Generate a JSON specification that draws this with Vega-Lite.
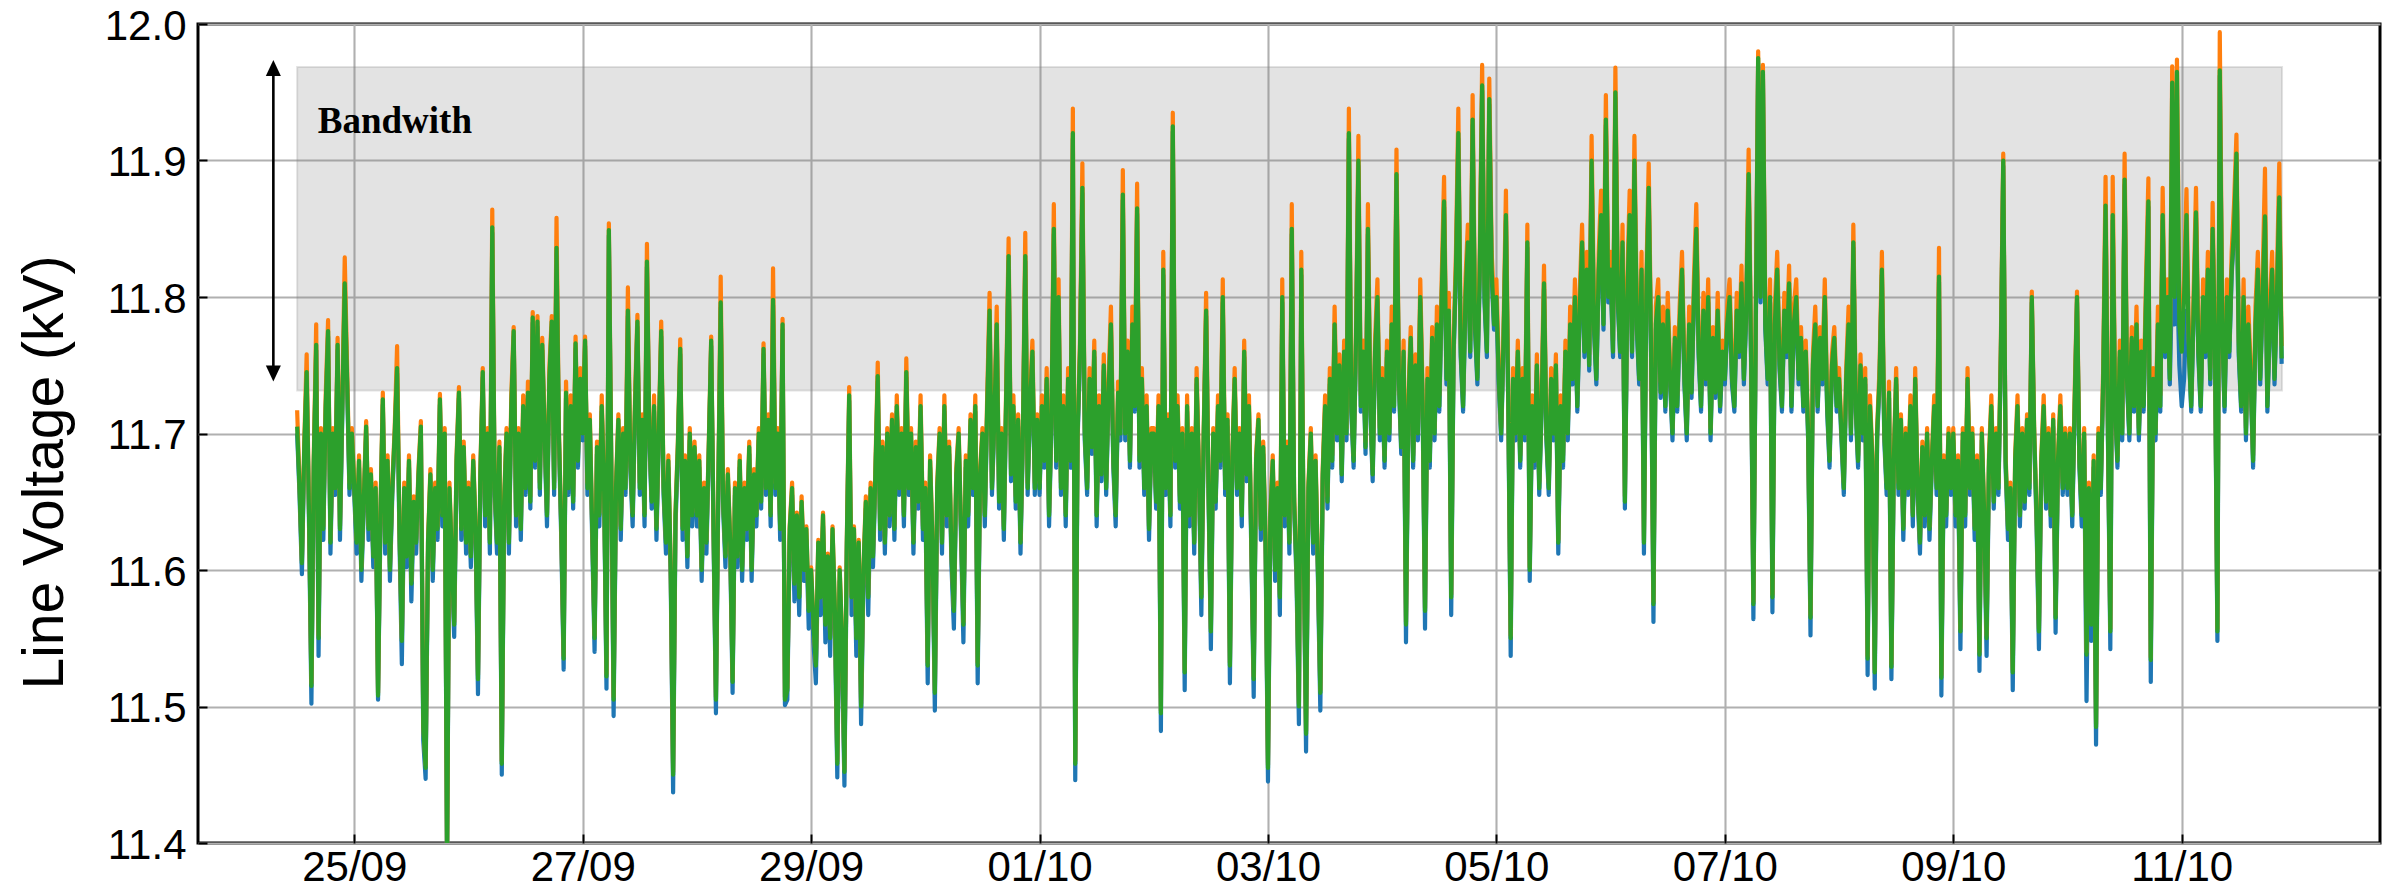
{
  "$schema": "https://vega.github.io/schema/vega-lite/v6.json",
  "width": 2182,
  "height": 819,
  "autosize": {"type": "none"},
  "padding": {"left": 198, "top": 24, "right": 14, "bottom": 46},
  "background": "white",
  "config": {
    "view": {"stroke": "black", "strokeWidth": 3},
    "axis": {
      "domain": false,
      "grid": true,
      "gridColor": "#b0b0b0",
      "gridWidth": 2.1,
      "ticks": true,
      "tickColor": "black",
      "tickWidth": 2,
      "tickSize": -9,
      "labelFont": "Liberation Sans",
      "labelFontSize": 42,
      "labelColor": "black",
      "labelOverlap": false,
      "labelFlush": false
    }
  },
  "datasets": {
    "band": [{"t": "2020-09-24T12:00Z", "t2": "2020-10-11T21:05Z", "v": 11.7315, "v2": 11.9685}],
    "shaft": [{"t": "2020-09-24T07:00Z", "v": 11.9677, "v2": 11.7439}],
    "headUp": [{"t": "2020-09-24T07:00Z", "v": 11.9677}],
    "headDown": [{"t": "2020-09-24T07:00Z", "v": 11.7439}],
    "note": [{"t": "2020-09-24T16:20Z", "v": 11.9204, "text": "Bandwith"}],
    "volt": [
{"t":"2020-09-24T12:00Z","g":11.705,"o":11.717,"b":11.700},
{"t":"2020-09-24T12:30Z","g":11.66,"o":11.664,"b":11.655},
{"t":"2020-09-24T13:00Z","g":11.605,"o":11.607,"b":11.597},
{"t":"2020-09-24T13:30Z","g":11.69,"o":11.694,"b":11.685},
{"t":"2020-09-24T14:00Z","g":11.745,"o":11.758,"b":11.741},
{"t":"2020-09-24T14:30Z","g":11.64,"o":11.642,"b":11.632},
{"t":"2020-09-24T15:00Z","g":11.515,"o":11.517,"b":11.502},
{"t":"2020-09-24T15:30Z","g":11.68,"o":11.684,"b":11.675},
{"t":"2020-09-24T16:00Z","g":11.765,"o":11.780,"b":11.761},
{"t":"2020-09-24T16:30Z","g":11.55,"o":11.552,"b":11.537},
{"t":"2020-09-24T17:00Z","g":11.70,"o":11.704,"b":11.695},
{"t":"2020-09-24T17:30Z","g":11.63,"o":11.632,"b":11.622},
{"t":"2020-09-24T18:00Z","g":11.72,"o":11.728,"b":11.716},
{"t":"2020-09-24T18:30Z","g":11.775,"o":11.783,"b":11.771},
{"t":"2020-09-24T19:00Z","g":11.62,"o":11.622,"b":11.612},
{"t":"2020-09-24T19:30Z","g":11.70,"o":11.704,"b":11.695},
{"t":"2020-09-24T20:00Z","g":11.66,"o":11.664,"b":11.655},
{"t":"2020-09-24T20:30Z","g":11.765,"o":11.770,"b":11.761},
{"t":"2020-09-24T21:00Z","g":11.63,"o":11.632,"b":11.622},
{"t":"2020-09-24T21:30Z","g":11.72,"o":11.728,"b":11.716},
{"t":"2020-09-24T22:00Z","g":11.81,"o":11.829,"b":11.806},
{"t":"2020-09-24T22:30Z","g":11.74,"o":11.748,"b":11.736},
{"t":"2020-09-24T23:00Z","g":11.66,"o":11.664,"b":11.655},
{"t":"2020-09-24T23:30Z","g":11.70,"o":11.704,"b":11.695},
{"t":"2020-09-25T00:00Z","g":11.66,"o":11.664,"b":11.655},
{"t":"2020-09-25T00:30Z","g":11.62,"o":11.622,"b":11.612},
{"t":"2020-09-25T01:00Z","g":11.68,"o":11.684,"b":11.675},
{"t":"2020-09-25T01:30Z","g":11.60,"o":11.602,"b":11.592},
{"t":"2020-09-25T02:00Z","g":11.65,"o":11.654,"b":11.645},
{"t":"2020-09-25T02:30Z","g":11.705,"o":11.709,"b":11.700},
{"t":"2020-09-25T03:00Z","g":11.63,"o":11.632,"b":11.622},
{"t":"2020-09-25T03:30Z","g":11.67,"o":11.674,"b":11.665},
{"t":"2020-09-25T04:00Z","g":11.61,"o":11.612,"b":11.602},
{"t":"2020-09-25T04:30Z","g":11.66,"o":11.664,"b":11.655},
{"t":"2020-09-25T05:00Z","g":11.508,"o":11.510,"b":11.505},
{"t":"2020-09-25T05:30Z","g":11.64,"o":11.642,"b":11.632},
{"t":"2020-09-25T06:00Z","g":11.725,"o":11.730,"b":11.721},
{"t":"2020-09-25T06:30Z","g":11.62,"o":11.622,"b":11.612},
{"t":"2020-09-25T07:00Z","g":11.68,"o":11.684,"b":11.675},
{"t":"2020-09-25T07:30Z","g":11.60,"o":11.602,"b":11.592},
{"t":"2020-09-25T08:00Z","g":11.66,"o":11.664,"b":11.655},
{"t":"2020-09-25T08:30Z","g":11.70,"o":11.704,"b":11.695},
{"t":"2020-09-25T09:00Z","g":11.748,"o":11.764,"b":11.744},
{"t":"2020-09-25T09:30Z","g":11.63,"o":11.632,"b":11.622},
{"t":"2020-09-25T10:00Z","g":11.548,"o":11.550,"b":11.531},
{"t":"2020-09-25T10:30Z","g":11.66,"o":11.664,"b":11.655},
{"t":"2020-09-25T11:00Z","g":11.61,"o":11.612,"b":11.602},
{"t":"2020-09-25T11:30Z","g":11.68,"o":11.684,"b":11.675},
{"t":"2020-09-25T12:00Z","g":11.59,"o":11.592,"b":11.577},
{"t":"2020-09-25T12:30Z","g":11.65,"o":11.654,"b":11.645},
{"t":"2020-09-25T13:00Z","g":11.62,"o":11.622,"b":11.612},
{"t":"2020-09-25T13:30Z","g":11.67,"o":11.674,"b":11.665},
{"t":"2020-09-25T14:00Z","g":11.705,"o":11.709,"b":11.700},
{"t":"2020-09-25T14:30Z","g":11.485,"o":11.487,"b":11.475},
{"t":"2020-09-25T15:00Z","g":11.455,"o":11.457,"b":11.447},
{"t":"2020-09-25T15:30Z","g":11.62,"o":11.622,"b":11.612},
{"t":"2020-09-25T16:00Z","g":11.67,"o":11.674,"b":11.665},
{"t":"2020-09-25T16:30Z","g":11.60,"o":11.602,"b":11.592},
{"t":"2020-09-25T17:00Z","g":11.66,"o":11.664,"b":11.655},
{"t":"2020-09-25T17:30Z","g":11.63,"o":11.632,"b":11.622},
{"t":"2020-09-25T18:00Z","g":11.725,"o":11.729,"b":11.721},
{"t":"2020-09-25T18:30Z","g":11.64,"o":11.642,"b":11.632},
{"t":"2020-09-25T19:00Z","g":11.70,"o":11.704,"b":11.695},
{"t":"2020-09-25T19:30Z","g":11.385,"o":11.388,"b":11.380},
{"t":"2020-09-25T20:00Z","g":11.66,"o":11.664,"b":11.655},
{"t":"2020-09-25T20:30Z","g":11.61,"o":11.612,"b":11.602},
{"t":"2020-09-25T21:00Z","g":11.56,"o":11.562,"b":11.551},
{"t":"2020-09-25T21:30Z","g":11.68,"o":11.684,"b":11.675},
{"t":"2020-09-25T22:00Z","g":11.73,"o":11.734,"b":11.726},
{"t":"2020-09-25T22:30Z","g":11.63,"o":11.632,"b":11.622},
{"t":"2020-09-25T23:00Z","g":11.69,"o":11.694,"b":11.685},
{"t":"2020-09-25T23:30Z","g":11.62,"o":11.622,"b":11.612},
{"t":"2020-09-26T00:00Z","g":11.66,"o":11.664,"b":11.655},
{"t":"2020-09-26T00:30Z","g":11.61,"o":11.612,"b":11.602},
{"t":"2020-09-26T01:00Z","g":11.68,"o":11.684,"b":11.675},
{"t":"2020-09-26T01:30Z","g":11.63,"o":11.632,"b":11.622},
{"t":"2020-09-26T02:00Z","g":11.52,"o":11.523,"b":11.509},
{"t":"2020-09-26T02:30Z","g":11.67,"o":11.674,"b":11.665},
{"t":"2020-09-26T03:00Z","g":11.745,"o":11.748,"b":11.741},
{"t":"2020-09-26T03:30Z","g":11.64,"o":11.642,"b":11.632},
{"t":"2020-09-26T04:00Z","g":11.70,"o":11.704,"b":11.695},
{"t":"2020-09-26T04:30Z","g":11.62,"o":11.622,"b":11.612},
{"t":"2020-09-26T05:00Z","g":11.851,"o":11.864,"b":11.847},
{"t":"2020-09-26T05:30Z","g":11.66,"o":11.664,"b":11.655},
{"t":"2020-09-26T06:00Z","g":11.62,"o":11.622,"b":11.612},
{"t":"2020-09-26T06:30Z","g":11.69,"o":11.694,"b":11.685},
{"t":"2020-09-26T07:00Z","g":11.458,"o":11.460,"b":11.450},
{"t":"2020-09-26T07:30Z","g":11.65,"o":11.654,"b":11.645},
{"t":"2020-09-26T08:00Z","g":11.70,"o":11.704,"b":11.695},
{"t":"2020-09-26T08:30Z","g":11.62,"o":11.622,"b":11.612},
{"t":"2020-09-26T09:00Z","g":11.72,"o":11.728,"b":11.716},
{"t":"2020-09-26T09:30Z","g":11.775,"o":11.778,"b":11.771},
{"t":"2020-09-26T10:00Z","g":11.64,"o":11.642,"b":11.632},
{"t":"2020-09-26T10:30Z","g":11.70,"o":11.704,"b":11.695},
{"t":"2020-09-26T11:00Z","g":11.63,"o":11.632,"b":11.622},
{"t":"2020-09-26T11:30Z","g":11.72,"o":11.728,"b":11.716},
{"t":"2020-09-26T12:00Z","g":11.66,"o":11.664,"b":11.655},
{"t":"2020-09-26T12:30Z","g":11.73,"o":11.738,"b":11.726},
{"t":"2020-09-26T13:00Z","g":11.65,"o":11.654,"b":11.645},
{"t":"2020-09-26T13:30Z","g":11.785,"o":11.789,"b":11.781},
{"t":"2020-09-26T14:00Z","g":11.68,"o":11.684,"b":11.675},
{"t":"2020-09-26T14:30Z","g":11.782,"o":11.786,"b":11.778},
{"t":"2020-09-26T15:00Z","g":11.66,"o":11.664,"b":11.655},
{"t":"2020-09-26T15:30Z","g":11.765,"o":11.770,"b":11.761},
{"t":"2020-09-26T16:00Z","g":11.70,"o":11.704,"b":11.695},
{"t":"2020-09-26T16:30Z","g":11.64,"o":11.642,"b":11.632},
{"t":"2020-09-26T17:00Z","g":11.74,"o":11.748,"b":11.736},
{"t":"2020-09-26T17:30Z","g":11.782,"o":11.786,"b":11.778},
{"t":"2020-09-26T18:00Z","g":11.66,"o":11.664,"b":11.655},
{"t":"2020-09-26T18:30Z","g":11.836,"o":11.858,"b":11.832},
{"t":"2020-09-26T19:00Z","g":11.70,"o":11.704,"b":11.695},
{"t":"2020-09-26T19:30Z","g":11.63,"o":11.632,"b":11.622},
{"t":"2020-09-26T20:00Z","g":11.535,"o":11.537,"b":11.527},
{"t":"2020-09-26T20:30Z","g":11.73,"o":11.738,"b":11.726},
{"t":"2020-09-26T21:00Z","g":11.66,"o":11.664,"b":11.655},
{"t":"2020-09-26T21:30Z","g":11.72,"o":11.728,"b":11.716},
{"t":"2020-09-26T22:00Z","g":11.65,"o":11.654,"b":11.645},
{"t":"2020-09-26T22:30Z","g":11.766,"o":11.771,"b":11.762},
{"t":"2020-09-26T23:00Z","g":11.68,"o":11.684,"b":11.675},
{"t":"2020-09-26T23:30Z","g":11.74,"o":11.748,"b":11.736},
{"t":"2020-09-27T00:00Z","g":11.70,"o":11.704,"b":11.695},
{"t":"2020-09-27T00:30Z","g":11.768,"o":11.771,"b":11.764},
{"t":"2020-09-27T01:00Z","g":11.66,"o":11.664,"b":11.655},
{"t":"2020-09-27T01:30Z","g":11.71,"o":11.714,"b":11.705},
{"t":"2020-09-27T02:00Z","g":11.63,"o":11.632,"b":11.622},
{"t":"2020-09-27T02:30Z","g":11.55,"o":11.552,"b":11.540},
{"t":"2020-09-27T03:00Z","g":11.69,"o":11.694,"b":11.685},
{"t":"2020-09-27T03:30Z","g":11.64,"o":11.642,"b":11.632},
{"t":"2020-09-27T04:00Z","g":11.72,"o":11.728,"b":11.716},
{"t":"2020-09-27T04:30Z","g":11.66,"o":11.664,"b":11.655},
{"t":"2020-09-27T05:00Z","g":11.522,"o":11.524,"b":11.513},
{"t":"2020-09-27T05:30Z","g":11.849,"o":11.854,"b":11.845},
{"t":"2020-09-27T06:00Z","g":11.68,"o":11.684,"b":11.675},
{"t":"2020-09-27T06:30Z","g":11.505,"o":11.507,"b":11.493},
{"t":"2020-09-27T07:00Z","g":11.66,"o":11.664,"b":11.655},
{"t":"2020-09-27T07:30Z","g":11.71,"o":11.714,"b":11.705},
{"t":"2020-09-27T08:00Z","g":11.63,"o":11.632,"b":11.622},
{"t":"2020-09-27T08:30Z","g":11.70,"o":11.704,"b":11.695},
{"t":"2020-09-27T09:00Z","g":11.66,"o":11.664,"b":11.655},
{"t":"2020-09-27T09:30Z","g":11.79,"o":11.807,"b":11.786},
{"t":"2020-09-27T10:00Z","g":11.68,"o":11.684,"b":11.675},
{"t":"2020-09-27T10:30Z","g":11.64,"o":11.642,"b":11.632},
{"t":"2020-09-27T11:00Z","g":11.72,"o":11.728,"b":11.716},
{"t":"2020-09-27T11:30Z","g":11.782,"o":11.787,"b":11.778},
{"t":"2020-09-27T12:00Z","g":11.66,"o":11.664,"b":11.655},
{"t":"2020-09-27T12:30Z","g":11.71,"o":11.714,"b":11.705},
{"t":"2020-09-27T13:00Z","g":11.64,"o":11.642,"b":11.632},
{"t":"2020-09-27T13:30Z","g":11.826,"o":11.839,"b":11.822},
{"t":"2020-09-27T14:00Z","g":11.70,"o":11.704,"b":11.695},
{"t":"2020-09-27T14:30Z","g":11.65,"o":11.654,"b":11.645},
{"t":"2020-09-27T15:00Z","g":11.72,"o":11.728,"b":11.716},
{"t":"2020-09-27T15:30Z","g":11.63,"o":11.632,"b":11.622},
{"t":"2020-09-27T16:00Z","g":11.70,"o":11.704,"b":11.695},
{"t":"2020-09-27T16:30Z","g":11.775,"o":11.782,"b":11.771},
{"t":"2020-09-27T17:00Z","g":11.66,"o":11.664,"b":11.655},
{"t":"2020-09-27T17:30Z","g":11.62,"o":11.622,"b":11.612},
{"t":"2020-09-27T18:00Z","g":11.68,"o":11.684,"b":11.675},
{"t":"2020-09-27T18:30Z","g":11.60,"o":11.602,"b":11.592},
{"t":"2020-09-27T19:00Z","g":11.45,"o":11.452,"b":11.437},
{"t":"2020-09-27T19:30Z","g":11.64,"o":11.642,"b":11.632},
{"t":"2020-09-27T20:00Z","g":11.69,"o":11.694,"b":11.685},
{"t":"2020-09-27T20:30Z","g":11.762,"o":11.769,"b":11.758},
{"t":"2020-09-27T21:00Z","g":11.63,"o":11.632,"b":11.622},
{"t":"2020-09-27T21:30Z","g":11.68,"o":11.684,"b":11.675},
{"t":"2020-09-27T22:00Z","g":11.61,"o":11.612,"b":11.602},
{"t":"2020-09-27T22:30Z","g":11.70,"o":11.704,"b":11.695},
{"t":"2020-09-27T23:00Z","g":11.64,"o":11.642,"b":11.632},
{"t":"2020-09-27T23:30Z","g":11.69,"o":11.694,"b":11.685},
{"t":"2020-09-28T00:00Z","g":11.64,"o":11.642,"b":11.632},
{"t":"2020-09-28T00:30Z","g":11.68,"o":11.684,"b":11.675},
{"t":"2020-09-28T01:00Z","g":11.60,"o":11.602,"b":11.592},
{"t":"2020-09-28T01:30Z","g":11.66,"o":11.664,"b":11.655},
{"t":"2020-09-28T02:00Z","g":11.62,"o":11.622,"b":11.612},
{"t":"2020-09-28T02:30Z","g":11.69,"o":11.694,"b":11.685},
{"t":"2020-09-28T03:00Z","g":11.768,"o":11.771,"b":11.764},
{"t":"2020-09-28T03:30Z","g":11.63,"o":11.632,"b":11.622},
{"t":"2020-09-28T04:00Z","g":11.505,"o":11.507,"b":11.495},
{"t":"2020-09-28T04:30Z","g":11.66,"o":11.664,"b":11.655},
{"t":"2020-09-28T05:00Z","g":11.796,"o":11.815,"b":11.792},
{"t":"2020-09-28T05:30Z","g":11.65,"o":11.654,"b":11.645},
{"t":"2020-09-28T06:00Z","g":11.61,"o":11.612,"b":11.602},
{"t":"2020-09-28T06:30Z","g":11.67,"o":11.674,"b":11.665},
{"t":"2020-09-28T07:00Z","g":11.62,"o":11.622,"b":11.612},
{"t":"2020-09-28T07:30Z","g":11.518,"o":11.520,"b":11.510},
{"t":"2020-09-28T08:00Z","g":11.66,"o":11.664,"b":11.655},
{"t":"2020-09-28T08:30Z","g":11.61,"o":11.612,"b":11.602},
{"t":"2020-09-28T09:00Z","g":11.68,"o":11.684,"b":11.675},
{"t":"2020-09-28T09:30Z","g":11.60,"o":11.602,"b":11.592},
{"t":"2020-09-28T10:00Z","g":11.66,"o":11.664,"b":11.655},
{"t":"2020-09-28T10:30Z","g":11.63,"o":11.632,"b":11.622},
{"t":"2020-09-28T11:00Z","g":11.69,"o":11.694,"b":11.685},
{"t":"2020-09-28T11:30Z","g":11.60,"o":11.602,"b":11.592},
{"t":"2020-09-28T12:00Z","g":11.67,"o":11.674,"b":11.665},
{"t":"2020-09-28T12:30Z","g":11.64,"o":11.642,"b":11.632},
{"t":"2020-09-28T13:00Z","g":11.70,"o":11.704,"b":11.695},
{"t":"2020-09-28T13:30Z","g":11.65,"o":11.654,"b":11.645},
{"t":"2020-09-28T14:00Z","g":11.762,"o":11.766,"b":11.758},
{"t":"2020-09-28T14:30Z","g":11.66,"o":11.664,"b":11.655},
{"t":"2020-09-28T15:00Z","g":11.71,"o":11.714,"b":11.705},
{"t":"2020-09-28T15:30Z","g":11.64,"o":11.642,"b":11.632},
{"t":"2020-09-28T16:00Z","g":11.798,"o":11.821,"b":11.794},
{"t":"2020-09-28T16:30Z","g":11.66,"o":11.664,"b":11.655},
{"t":"2020-09-28T17:00Z","g":11.70,"o":11.704,"b":11.695},
{"t":"2020-09-28T17:30Z","g":11.63,"o":11.632,"b":11.622},
{"t":"2020-09-28T18:00Z","g":11.78,"o":11.784,"b":11.776},
{"t":"2020-09-28T18:30Z","g":11.505,"o":11.507,"b":11.501},
{"t":"2020-09-28T19:00Z","g":11.512,"o":11.514,"b":11.505},
{"t":"2020-09-28T19:30Z","g":11.63,"o":11.632,"b":11.622},
{"t":"2020-09-28T20:00Z","g":11.66,"o":11.664,"b":11.655},
{"t":"2020-09-28T20:30Z","g":11.59,"o":11.592,"b":11.577},
{"t":"2020-09-28T21:00Z","g":11.64,"o":11.642,"b":11.632},
{"t":"2020-09-28T21:30Z","g":11.58,"o":11.582,"b":11.567},
{"t":"2020-09-28T22:00Z","g":11.65,"o":11.654,"b":11.645},
{"t":"2020-09-28T22:30Z","g":11.60,"o":11.602,"b":11.592},
{"t":"2020-09-28T23:00Z","g":11.63,"o":11.632,"b":11.622},
{"t":"2020-09-28T23:30Z","g":11.57,"o":11.572,"b":11.557},
{"t":"2020-09-29T00:00Z","g":11.60,"o":11.602,"b":11.592},
{"t":"2020-09-29T00:30Z","g":11.56,"o":11.562,"b":11.547},
{"t":"2020-09-29T01:00Z","g":11.53,"o":11.532,"b":11.517},
{"t":"2020-09-29T01:30Z","g":11.62,"o":11.622,"b":11.612},
{"t":"2020-09-29T02:00Z","g":11.58,"o":11.582,"b":11.567},
{"t":"2020-09-29T02:30Z","g":11.64,"o":11.642,"b":11.632},
{"t":"2020-09-29T03:00Z","g":11.56,"o":11.562,"b":11.547},
{"t":"2020-09-29T03:30Z","g":11.61,"o":11.612,"b":11.602},
{"t":"2020-09-29T04:00Z","g":11.55,"o":11.552,"b":11.537},
{"t":"2020-09-29T04:30Z","g":11.63,"o":11.632,"b":11.622},
{"t":"2020-09-29T05:00Z","g":11.57,"o":11.572,"b":11.557},
{"t":"2020-09-29T05:30Z","g":11.458,"o":11.460,"b":11.448},
{"t":"2020-09-29T06:00Z","g":11.60,"o":11.602,"b":11.592},
{"t":"2020-09-29T06:30Z","g":11.55,"o":11.552,"b":11.537},
{"t":"2020-09-29T07:00Z","g":11.452,"o":11.454,"b":11.442},
{"t":"2020-09-29T07:30Z","g":11.62,"o":11.622,"b":11.612},
{"t":"2020-09-29T08:00Z","g":11.728,"o":11.734,"b":11.724},
{"t":"2020-09-29T08:30Z","g":11.58,"o":11.582,"b":11.567},
{"t":"2020-09-29T09:00Z","g":11.63,"o":11.632,"b":11.622},
{"t":"2020-09-29T09:30Z","g":11.55,"o":11.552,"b":11.537},
{"t":"2020-09-29T10:00Z","g":11.62,"o":11.622,"b":11.612},
{"t":"2020-09-29T10:30Z","g":11.50,"o":11.502,"b":11.487},
{"t":"2020-09-29T11:00Z","g":11.60,"o":11.602,"b":11.592},
{"t":"2020-09-29T11:30Z","g":11.65,"o":11.654,"b":11.645},
{"t":"2020-09-29T12:00Z","g":11.58,"o":11.582,"b":11.567},
{"t":"2020-09-29T12:30Z","g":11.66,"o":11.664,"b":11.655},
{"t":"2020-09-29T13:00Z","g":11.61,"o":11.612,"b":11.602},
{"t":"2020-09-29T13:30Z","g":11.67,"o":11.674,"b":11.665},
{"t":"2020-09-29T14:00Z","g":11.742,"o":11.752,"b":11.738},
{"t":"2020-09-29T14:30Z","g":11.63,"o":11.632,"b":11.622},
{"t":"2020-09-29T15:00Z","g":11.69,"o":11.694,"b":11.685},
{"t":"2020-09-29T15:30Z","g":11.62,"o":11.622,"b":11.612},
{"t":"2020-09-29T16:00Z","g":11.70,"o":11.704,"b":11.695},
{"t":"2020-09-29T16:30Z","g":11.64,"o":11.642,"b":11.632},
{"t":"2020-09-29T17:00Z","g":11.71,"o":11.714,"b":11.705},
{"t":"2020-09-29T17:30Z","g":11.63,"o":11.632,"b":11.622},
{"t":"2020-09-29T18:00Z","g":11.72,"o":11.728,"b":11.716},
{"t":"2020-09-29T18:30Z","g":11.66,"o":11.664,"b":11.655},
{"t":"2020-09-29T19:00Z","g":11.70,"o":11.704,"b":11.695},
{"t":"2020-09-29T19:30Z","g":11.64,"o":11.642,"b":11.632},
{"t":"2020-09-29T20:00Z","g":11.745,"o":11.755,"b":11.741},
{"t":"2020-09-29T20:30Z","g":11.66,"o":11.664,"b":11.655},
{"t":"2020-09-29T21:00Z","g":11.70,"o":11.704,"b":11.695},
{"t":"2020-09-29T21:30Z","g":11.62,"o":11.622,"b":11.612},
{"t":"2020-09-29T22:00Z","g":11.69,"o":11.694,"b":11.685},
{"t":"2020-09-29T22:30Z","g":11.65,"o":11.654,"b":11.645},
{"t":"2020-09-29T23:00Z","g":11.72,"o":11.728,"b":11.716},
{"t":"2020-09-29T23:30Z","g":11.63,"o":11.632,"b":11.622},
{"t":"2020-09-30T00:00Z","g":11.66,"o":11.664,"b":11.655},
{"t":"2020-09-30T00:30Z","g":11.53,"o":11.532,"b":11.517},
{"t":"2020-09-30T01:00Z","g":11.68,"o":11.684,"b":11.675},
{"t":"2020-09-30T01:30Z","g":11.62,"o":11.622,"b":11.612},
{"t":"2020-09-30T02:00Z","g":11.51,"o":11.512,"b":11.497},
{"t":"2020-09-30T02:30Z","g":11.66,"o":11.664,"b":11.655},
{"t":"2020-09-30T03:00Z","g":11.70,"o":11.704,"b":11.695},
{"t":"2020-09-30T03:30Z","g":11.62,"o":11.622,"b":11.612},
{"t":"2020-09-30T04:00Z","g":11.72,"o":11.728,"b":11.716},
{"t":"2020-09-30T04:30Z","g":11.64,"o":11.642,"b":11.632},
{"t":"2020-09-30T05:00Z","g":11.69,"o":11.694,"b":11.685},
{"t":"2020-09-30T05:30Z","g":11.61,"o":11.612,"b":11.602},
{"t":"2020-09-30T06:00Z","g":11.57,"o":11.572,"b":11.557},
{"t":"2020-09-30T06:30Z","g":11.67,"o":11.674,"b":11.665},
{"t":"2020-09-30T07:00Z","g":11.70,"o":11.704,"b":11.695},
{"t":"2020-09-30T07:30Z","g":11.63,"o":11.632,"b":11.622},
{"t":"2020-09-30T08:00Z","g":11.56,"o":11.562,"b":11.547},
{"t":"2020-09-30T08:30Z","g":11.68,"o":11.684,"b":11.675},
{"t":"2020-09-30T09:00Z","g":11.64,"o":11.642,"b":11.632},
{"t":"2020-09-30T09:30Z","g":11.71,"o":11.714,"b":11.705},
{"t":"2020-09-30T10:00Z","g":11.66,"o":11.664,"b":11.655},
{"t":"2020-09-30T10:30Z","g":11.72,"o":11.728,"b":11.716},
{"t":"2020-09-30T11:00Z","g":11.53,"o":11.532,"b":11.517},
{"t":"2020-09-30T11:30Z","g":11.67,"o":11.674,"b":11.665},
{"t":"2020-09-30T12:00Z","g":11.70,"o":11.704,"b":11.695},
{"t":"2020-09-30T12:30Z","g":11.64,"o":11.642,"b":11.632},
{"t":"2020-09-30T13:00Z","g":11.72,"o":11.728,"b":11.716},
{"t":"2020-09-30T13:30Z","g":11.79,"o":11.803,"b":11.786},
{"t":"2020-09-30T14:00Z","g":11.66,"o":11.664,"b":11.655},
{"t":"2020-09-30T14:30Z","g":11.71,"o":11.714,"b":11.705},
{"t":"2020-09-30T15:00Z","g":11.78,"o":11.793,"b":11.776},
{"t":"2020-09-30T15:30Z","g":11.65,"o":11.654,"b":11.645},
{"t":"2020-09-30T16:00Z","g":11.70,"o":11.704,"b":11.695},
{"t":"2020-09-30T16:30Z","g":11.63,"o":11.632,"b":11.622},
{"t":"2020-09-30T17:00Z","g":11.73,"o":11.738,"b":11.726},
{"t":"2020-09-30T17:30Z","g":11.83,"o":11.843,"b":11.826},
{"t":"2020-09-30T18:00Z","g":11.67,"o":11.674,"b":11.665},
{"t":"2020-09-30T18:30Z","g":11.72,"o":11.728,"b":11.716},
{"t":"2020-09-30T19:00Z","g":11.65,"o":11.654,"b":11.645},
{"t":"2020-09-30T19:30Z","g":11.71,"o":11.714,"b":11.705},
{"t":"2020-09-30T20:00Z","g":11.62,"o":11.622,"b":11.612},
{"t":"2020-09-30T20:30Z","g":11.70,"o":11.704,"b":11.695},
{"t":"2020-09-30T21:00Z","g":11.83,"o":11.847,"b":11.826},
{"t":"2020-09-30T21:30Z","g":11.66,"o":11.664,"b":11.655},
{"t":"2020-09-30T22:00Z","g":11.72,"o":11.728,"b":11.716},
{"t":"2020-09-30T22:30Z","g":11.76,"o":11.768,"b":11.756},
{"t":"2020-09-30T23:00Z","g":11.66,"o":11.664,"b":11.655},
{"t":"2020-09-30T23:30Z","g":11.71,"o":11.714,"b":11.705},
{"t":"2020-10-01T00:00Z","g":11.66,"o":11.664,"b":11.655},
{"t":"2020-10-01T00:30Z","g":11.72,"o":11.728,"b":11.716},
{"t":"2020-10-01T01:00Z","g":11.68,"o":11.684,"b":11.675},
{"t":"2020-10-01T01:30Z","g":11.74,"o":11.748,"b":11.736},
{"t":"2020-10-01T02:00Z","g":11.64,"o":11.642,"b":11.632},
{"t":"2020-10-01T02:30Z","g":11.71,"o":11.714,"b":11.705},
{"t":"2020-10-01T03:00Z","g":11.85,"o":11.868,"b":11.846},
{"t":"2020-10-01T03:30Z","g":11.68,"o":11.684,"b":11.675},
{"t":"2020-10-01T04:00Z","g":11.80,"o":11.813,"b":11.796},
{"t":"2020-10-01T04:30Z","g":11.66,"o":11.664,"b":11.655},
{"t":"2020-10-01T05:00Z","g":11.72,"o":11.728,"b":11.716},
{"t":"2020-10-01T05:30Z","g":11.64,"o":11.642,"b":11.632},
{"t":"2020-10-01T06:00Z","g":11.74,"o":11.748,"b":11.736},
{"t":"2020-10-01T06:30Z","g":11.68,"o":11.684,"b":11.675},
{"t":"2020-10-01T07:00Z","g":11.92,"o":11.938,"b":11.916},
{"t":"2020-10-01T07:30Z","g":11.458,"o":11.460,"b":11.446},
{"t":"2020-10-01T08:00Z","g":11.70,"o":11.704,"b":11.695},
{"t":"2020-10-01T08:30Z","g":11.76,"o":11.768,"b":11.756},
{"t":"2020-10-01T09:00Z","g":11.88,"o":11.898,"b":11.876},
{"t":"2020-10-01T09:30Z","g":11.70,"o":11.704,"b":11.695},
{"t":"2020-10-01T10:00Z","g":11.66,"o":11.664,"b":11.655},
{"t":"2020-10-01T10:30Z","g":11.74,"o":11.748,"b":11.736},
{"t":"2020-10-01T11:00Z","g":11.69,"o":11.694,"b":11.685},
{"t":"2020-10-01T11:30Z","g":11.76,"o":11.768,"b":11.756},
{"t":"2020-10-01T12:00Z","g":11.64,"o":11.642,"b":11.632},
{"t":"2020-10-01T12:30Z","g":11.72,"o":11.728,"b":11.716},
{"t":"2020-10-01T13:00Z","g":11.67,"o":11.674,"b":11.665},
{"t":"2020-10-01T13:30Z","g":11.75,"o":11.758,"b":11.746},
{"t":"2020-10-01T14:00Z","g":11.66,"o":11.664,"b":11.655},
{"t":"2020-10-01T14:30Z","g":11.73,"o":11.738,"b":11.726},
{"t":"2020-10-01T15:00Z","g":11.78,"o":11.793,"b":11.776},
{"t":"2020-10-01T15:30Z","g":11.68,"o":11.684,"b":11.675},
{"t":"2020-10-01T16:00Z","g":11.64,"o":11.642,"b":11.632},
{"t":"2020-10-01T16:30Z","g":11.73,"o":11.738,"b":11.726},
{"t":"2020-10-01T17:00Z","g":11.70,"o":11.704,"b":11.695},
{"t":"2020-10-01T17:30Z","g":11.875,"o":11.893,"b":11.871},
{"t":"2020-10-01T18:00Z","g":11.70,"o":11.704,"b":11.695},
{"t":"2020-10-01T18:30Z","g":11.76,"o":11.768,"b":11.756},
{"t":"2020-10-01T19:00Z","g":11.68,"o":11.684,"b":11.675},
{"t":"2020-10-01T19:30Z","g":11.78,"o":11.793,"b":11.776},
{"t":"2020-10-01T20:00Z","g":11.72,"o":11.728,"b":11.716},
{"t":"2020-10-01T20:30Z","g":11.865,"o":11.883,"b":11.861},
{"t":"2020-10-01T21:00Z","g":11.68,"o":11.684,"b":11.675},
{"t":"2020-10-01T21:30Z","g":11.74,"o":11.748,"b":11.736},
{"t":"2020-10-01T22:00Z","g":11.66,"o":11.664,"b":11.655},
{"t":"2020-10-01T22:30Z","g":11.72,"o":11.728,"b":11.716},
{"t":"2020-10-01T23:00Z","g":11.63,"o":11.632,"b":11.622},
{"t":"2020-10-01T23:30Z","g":11.70,"o":11.704,"b":11.695},
{"t":"2020-10-02T00:00Z","g":11.70,"o":11.704,"b":11.695},
{"t":"2020-10-02T00:30Z","g":11.65,"o":11.654,"b":11.645},
{"t":"2020-10-02T01:00Z","g":11.72,"o":11.728,"b":11.716},
{"t":"2020-10-02T01:30Z","g":11.495,"o":11.497,"b":11.482},
{"t":"2020-10-02T02:00Z","g":11.82,"o":11.833,"b":11.816},
{"t":"2020-10-02T02:30Z","g":11.66,"o":11.664,"b":11.655},
{"t":"2020-10-02T03:00Z","g":11.71,"o":11.714,"b":11.705},
{"t":"2020-10-02T03:30Z","g":11.64,"o":11.642,"b":11.632},
{"t":"2020-10-02T04:00Z","g":11.925,"o":11.935,"b":11.921},
{"t":"2020-10-02T04:30Z","g":11.68,"o":11.684,"b":11.675},
{"t":"2020-10-02T05:00Z","g":11.72,"o":11.728,"b":11.716},
{"t":"2020-10-02T05:30Z","g":11.65,"o":11.654,"b":11.645},
{"t":"2020-10-02T06:00Z","g":11.70,"o":11.704,"b":11.695},
{"t":"2020-10-02T06:30Z","g":11.525,"o":11.527,"b":11.512},
{"t":"2020-10-02T07:00Z","g":11.72,"o":11.728,"b":11.716},
{"t":"2020-10-02T07:30Z","g":11.64,"o":11.642,"b":11.632},
{"t":"2020-10-02T08:00Z","g":11.70,"o":11.704,"b":11.695},
{"t":"2020-10-02T08:30Z","g":11.62,"o":11.622,"b":11.612},
{"t":"2020-10-02T09:00Z","g":11.74,"o":11.748,"b":11.736},
{"t":"2020-10-02T09:30Z","g":11.67,"o":11.674,"b":11.665},
{"t":"2020-10-02T10:00Z","g":11.58,"o":11.582,"b":11.567},
{"t":"2020-10-02T10:30Z","g":11.70,"o":11.704,"b":11.695},
{"t":"2020-10-02T11:00Z","g":11.79,"o":11.803,"b":11.786},
{"t":"2020-10-02T11:30Z","g":11.66,"o":11.664,"b":11.655},
{"t":"2020-10-02T12:00Z","g":11.555,"o":11.557,"b":11.542},
{"t":"2020-10-02T12:30Z","g":11.70,"o":11.704,"b":11.695},
{"t":"2020-10-02T13:00Z","g":11.65,"o":11.654,"b":11.645},
{"t":"2020-10-02T13:30Z","g":11.72,"o":11.728,"b":11.716},
{"t":"2020-10-02T14:00Z","g":11.68,"o":11.684,"b":11.675},
{"t":"2020-10-02T14:30Z","g":11.80,"o":11.813,"b":11.796},
{"t":"2020-10-02T15:00Z","g":11.66,"o":11.664,"b":11.655},
{"t":"2020-10-02T15:30Z","g":11.71,"o":11.714,"b":11.705},
{"t":"2020-10-02T16:00Z","g":11.53,"o":11.532,"b":11.517},
{"t":"2020-10-02T16:30Z","g":11.68,"o":11.684,"b":11.675},
{"t":"2020-10-02T17:00Z","g":11.74,"o":11.748,"b":11.736},
{"t":"2020-10-02T17:30Z","g":11.66,"o":11.664,"b":11.655},
{"t":"2020-10-02T18:00Z","g":11.70,"o":11.704,"b":11.695},
{"t":"2020-10-02T18:30Z","g":11.64,"o":11.642,"b":11.632},
{"t":"2020-10-02T19:00Z","g":11.76,"o":11.768,"b":11.756},
{"t":"2020-10-02T19:30Z","g":11.67,"o":11.674,"b":11.665},
{"t":"2020-10-02T20:00Z","g":11.72,"o":11.728,"b":11.716},
{"t":"2020-10-02T20:30Z","g":11.62,"o":11.622,"b":11.612},
{"t":"2020-10-02T21:00Z","g":11.52,"o":11.522,"b":11.507},
{"t":"2020-10-02T21:30Z","g":11.68,"o":11.684,"b":11.675},
{"t":"2020-10-02T22:00Z","g":11.71,"o":11.714,"b":11.705},
{"t":"2020-10-02T22:30Z","g":11.63,"o":11.632,"b":11.622},
{"t":"2020-10-02T23:00Z","g":11.69,"o":11.694,"b":11.685},
{"t":"2020-10-02T23:30Z","g":11.62,"o":11.622,"b":11.612},
{"t":"2020-10-03T00:00Z","g":11.455,"o":11.457,"b":11.445},
{"t":"2020-10-03T00:30Z","g":11.64,"o":11.642,"b":11.632},
{"t":"2020-10-03T01:00Z","g":11.68,"o":11.684,"b":11.675},
{"t":"2020-10-03T01:30Z","g":11.60,"o":11.602,"b":11.592},
{"t":"2020-10-03T02:00Z","g":11.66,"o":11.664,"b":11.655},
{"t":"2020-10-03T02:30Z","g":11.58,"o":11.582,"b":11.567},
{"t":"2020-10-03T03:00Z","g":11.80,"o":11.813,"b":11.796},
{"t":"2020-10-03T03:30Z","g":11.64,"o":11.642,"b":11.632},
{"t":"2020-10-03T04:00Z","g":11.69,"o":11.694,"b":11.685},
{"t":"2020-10-03T04:30Z","g":11.62,"o":11.622,"b":11.612},
{"t":"2020-10-03T05:00Z","g":11.85,"o":11.868,"b":11.846},
{"t":"2020-10-03T05:30Z","g":11.65,"o":11.654,"b":11.645},
{"t":"2020-10-03T06:00Z","g":11.60,"o":11.602,"b":11.592},
{"t":"2020-10-03T06:30Z","g":11.50,"o":11.502,"b":11.487},
{"t":"2020-10-03T07:00Z","g":11.82,"o":11.833,"b":11.816},
{"t":"2020-10-03T07:30Z","g":11.62,"o":11.622,"b":11.612},
{"t":"2020-10-03T08:00Z","g":11.48,"o":11.482,"b":11.467},
{"t":"2020-10-03T08:30Z","g":11.66,"o":11.664,"b":11.655},
{"t":"2020-10-03T09:00Z","g":11.70,"o":11.704,"b":11.695},
{"t":"2020-10-03T09:30Z","g":11.62,"o":11.622,"b":11.612},
{"t":"2020-10-03T10:00Z","g":11.68,"o":11.684,"b":11.675},
{"t":"2020-10-03T10:30Z","g":11.60,"o":11.602,"b":11.592},
{"t":"2020-10-03T11:00Z","g":11.51,"o":11.512,"b":11.497},
{"t":"2020-10-03T11:30Z","g":11.67,"o":11.674,"b":11.665},
{"t":"2020-10-03T12:00Z","g":11.72,"o":11.728,"b":11.716},
{"t":"2020-10-03T12:30Z","g":11.65,"o":11.654,"b":11.645},
{"t":"2020-10-03T13:00Z","g":11.74,"o":11.748,"b":11.736},
{"t":"2020-10-03T13:30Z","g":11.68,"o":11.684,"b":11.675},
{"t":"2020-10-03T14:00Z","g":11.78,"o":11.793,"b":11.776},
{"t":"2020-10-03T14:30Z","g":11.70,"o":11.704,"b":11.695},
{"t":"2020-10-03T15:00Z","g":11.75,"o":11.758,"b":11.746},
{"t":"2020-10-03T15:30Z","g":11.67,"o":11.674,"b":11.665},
{"t":"2020-10-03T16:00Z","g":11.76,"o":11.768,"b":11.756},
{"t":"2020-10-03T16:30Z","g":11.70,"o":11.704,"b":11.695},
{"t":"2020-10-03T17:00Z","g":11.92,"o":11.938,"b":11.916},
{"t":"2020-10-03T17:30Z","g":11.72,"o":11.728,"b":11.716},
{"t":"2020-10-03T18:00Z","g":11.68,"o":11.684,"b":11.675},
{"t":"2020-10-03T18:30Z","g":11.77,"o":11.778,"b":11.766},
{"t":"2020-10-03T19:00Z","g":11.90,"o":11.918,"b":11.896},
{"t":"2020-10-03T19:30Z","g":11.72,"o":11.728,"b":11.716},
{"t":"2020-10-03T20:00Z","g":11.76,"o":11.768,"b":11.756},
{"t":"2020-10-03T20:30Z","g":11.69,"o":11.694,"b":11.685},
{"t":"2020-10-03T21:00Z","g":11.85,"o":11.868,"b":11.846},
{"t":"2020-10-03T21:30Z","g":11.72,"o":11.728,"b":11.716},
{"t":"2020-10-03T22:00Z","g":11.67,"o":11.674,"b":11.665},
{"t":"2020-10-03T22:30Z","g":11.76,"o":11.768,"b":11.756},
{"t":"2020-10-03T23:00Z","g":11.80,"o":11.813,"b":11.796},
{"t":"2020-10-03T23:30Z","g":11.70,"o":11.704,"b":11.695},
{"t":"2020-10-04T00:00Z","g":11.74,"o":11.748,"b":11.736},
{"t":"2020-10-04T00:30Z","g":11.68,"o":11.684,"b":11.675},
{"t":"2020-10-04T01:00Z","g":11.76,"o":11.768,"b":11.756},
{"t":"2020-10-04T01:30Z","g":11.70,"o":11.704,"b":11.695},
{"t":"2020-10-04T02:00Z","g":11.78,"o":11.793,"b":11.776},
{"t":"2020-10-04T02:30Z","g":11.72,"o":11.728,"b":11.716},
{"t":"2020-10-04T03:00Z","g":11.89,"o":11.908,"b":11.886},
{"t":"2020-10-04T03:30Z","g":11.74,"o":11.748,"b":11.736},
{"t":"2020-10-04T04:00Z","g":11.69,"o":11.694,"b":11.685},
{"t":"2020-10-04T04:30Z","g":11.76,"o":11.768,"b":11.756},
{"t":"2020-10-04T05:00Z","g":11.56,"o":11.562,"b":11.547},
{"t":"2020-10-04T05:30Z","g":11.72,"o":11.728,"b":11.716},
{"t":"2020-10-04T06:00Z","g":11.77,"o":11.778,"b":11.766},
{"t":"2020-10-04T06:30Z","g":11.68,"o":11.684,"b":11.675},
{"t":"2020-10-04T07:00Z","g":11.75,"o":11.758,"b":11.746},
{"t":"2020-10-04T07:30Z","g":11.70,"o":11.704,"b":11.695},
{"t":"2020-10-04T08:00Z","g":11.80,"o":11.813,"b":11.796},
{"t":"2020-10-04T08:30Z","g":11.72,"o":11.728,"b":11.716},
{"t":"2020-10-04T09:00Z","g":11.57,"o":11.572,"b":11.557},
{"t":"2020-10-04T09:30Z","g":11.74,"o":11.748,"b":11.736},
{"t":"2020-10-04T10:00Z","g":11.68,"o":11.684,"b":11.675},
{"t":"2020-10-04T10:30Z","g":11.77,"o":11.778,"b":11.766},
{"t":"2020-10-04T11:00Z","g":11.70,"o":11.704,"b":11.695},
{"t":"2020-10-04T11:30Z","g":11.78,"o":11.793,"b":11.776},
{"t":"2020-10-04T12:00Z","g":11.72,"o":11.728,"b":11.716},
{"t":"2020-10-04T12:30Z","g":11.80,"o":11.813,"b":11.796},
{"t":"2020-10-04T13:00Z","g":11.87,"o":11.888,"b":11.866},
{"t":"2020-10-04T13:30Z","g":11.74,"o":11.748,"b":11.736},
{"t":"2020-10-04T14:00Z","g":11.79,"o":11.803,"b":11.786},
{"t":"2020-10-04T14:30Z","g":11.58,"o":11.582,"b":11.567},
{"t":"2020-10-04T15:00Z","g":11.76,"o":11.768,"b":11.756},
{"t":"2020-10-04T15:30Z","g":11.82,"o":11.833,"b":11.816},
{"t":"2020-10-04T16:00Z","g":11.92,"o":11.938,"b":11.916},
{"t":"2020-10-04T16:30Z","g":11.76,"o":11.768,"b":11.756},
{"t":"2020-10-04T17:00Z","g":11.72,"o":11.728,"b":11.716},
{"t":"2020-10-04T17:30Z","g":11.80,"o":11.813,"b":11.796},
{"t":"2020-10-04T18:00Z","g":11.84,"o":11.853,"b":11.836},
{"t":"2020-10-04T18:30Z","g":11.76,"o":11.768,"b":11.756},
{"t":"2020-10-04T19:00Z","g":11.93,"o":11.948,"b":11.926},
{"t":"2020-10-04T19:30Z","g":11.78,"o":11.793,"b":11.776},
{"t":"2020-10-04T20:00Z","g":11.74,"o":11.748,"b":11.736},
{"t":"2020-10-04T20:30Z","g":11.82,"o":11.833,"b":11.816},
{"t":"2020-10-04T21:00Z","g":11.955,"o":11.970,"b":11.951},
{"t":"2020-10-04T21:30Z","g":11.80,"o":11.813,"b":11.796},
{"t":"2020-10-04T22:00Z","g":11.76,"o":11.768,"b":11.756},
{"t":"2020-10-04T22:30Z","g":11.945,"o":11.960,"b":11.941},
{"t":"2020-10-04T23:00Z","g":11.82,"o":11.833,"b":11.816},
{"t":"2020-10-04T23:30Z","g":11.78,"o":11.793,"b":11.776},
{"t":"2020-10-05T00:00Z","g":11.80,"o":11.813,"b":11.796},
{"t":"2020-10-05T00:30Z","g":11.74,"o":11.748,"b":11.736},
{"t":"2020-10-05T01:00Z","g":11.70,"o":11.704,"b":11.695},
{"t":"2020-10-05T01:30Z","g":11.77,"o":11.778,"b":11.766},
{"t":"2020-10-05T02:00Z","g":11.86,"o":11.878,"b":11.856},
{"t":"2020-10-05T02:30Z","g":11.72,"o":11.728,"b":11.716},
{"t":"2020-10-05T03:00Z","g":11.55,"o":11.552,"b":11.537},
{"t":"2020-10-05T03:30Z","g":11.74,"o":11.748,"b":11.736},
{"t":"2020-10-05T04:00Z","g":11.70,"o":11.704,"b":11.695},
{"t":"2020-10-05T04:30Z","g":11.76,"o":11.768,"b":11.756},
{"t":"2020-10-05T05:00Z","g":11.68,"o":11.684,"b":11.675},
{"t":"2020-10-05T05:30Z","g":11.74,"o":11.748,"b":11.736},
{"t":"2020-10-05T06:00Z","g":11.70,"o":11.704,"b":11.695},
{"t":"2020-10-05T06:30Z","g":11.84,"o":11.853,"b":11.836},
{"t":"2020-10-05T07:00Z","g":11.60,"o":11.602,"b":11.592},
{"t":"2020-10-05T07:30Z","g":11.72,"o":11.728,"b":11.716},
{"t":"2020-10-05T08:00Z","g":11.68,"o":11.684,"b":11.675},
{"t":"2020-10-05T08:30Z","g":11.75,"o":11.758,"b":11.746},
{"t":"2020-10-05T09:00Z","g":11.66,"o":11.664,"b":11.655},
{"t":"2020-10-05T09:30Z","g":11.72,"o":11.728,"b":11.716},
{"t":"2020-10-05T10:00Z","g":11.81,"o":11.823,"b":11.806},
{"t":"2020-10-05T10:30Z","g":11.70,"o":11.704,"b":11.695},
{"t":"2020-10-05T11:00Z","g":11.66,"o":11.664,"b":11.655},
{"t":"2020-10-05T11:30Z","g":11.74,"o":11.748,"b":11.736},
{"t":"2020-10-05T12:00Z","g":11.70,"o":11.704,"b":11.695},
{"t":"2020-10-05T12:30Z","g":11.75,"o":11.758,"b":11.746},
{"t":"2020-10-05T13:00Z","g":11.62,"o":11.622,"b":11.612},
{"t":"2020-10-05T13:30Z","g":11.72,"o":11.728,"b":11.716},
{"t":"2020-10-05T14:00Z","g":11.68,"o":11.684,"b":11.675},
{"t":"2020-10-05T14:30Z","g":11.76,"o":11.768,"b":11.756},
{"t":"2020-10-05T15:00Z","g":11.70,"o":11.704,"b":11.695},
{"t":"2020-10-05T15:30Z","g":11.78,"o":11.793,"b":11.776},
{"t":"2020-10-05T16:00Z","g":11.74,"o":11.748,"b":11.736},
{"t":"2020-10-05T16:30Z","g":11.80,"o":11.813,"b":11.796},
{"t":"2020-10-05T17:00Z","g":11.72,"o":11.728,"b":11.716},
{"t":"2020-10-05T17:30Z","g":11.79,"o":11.803,"b":11.786},
{"t":"2020-10-05T18:00Z","g":11.84,"o":11.853,"b":11.836},
{"t":"2020-10-05T18:30Z","g":11.76,"o":11.768,"b":11.756},
{"t":"2020-10-05T19:00Z","g":11.82,"o":11.833,"b":11.816},
{"t":"2020-10-05T19:30Z","g":11.75,"o":11.758,"b":11.746},
{"t":"2020-10-05T20:00Z","g":11.90,"o":11.918,"b":11.896},
{"t":"2020-10-05T20:30Z","g":11.78,"o":11.793,"b":11.776},
{"t":"2020-10-05T21:00Z","g":11.74,"o":11.748,"b":11.736},
{"t":"2020-10-05T21:30Z","g":11.82,"o":11.833,"b":11.816},
{"t":"2020-10-05T22:00Z","g":11.86,"o":11.878,"b":11.856},
{"t":"2020-10-05T22:30Z","g":11.78,"o":11.793,"b":11.776},
{"t":"2020-10-05T23:00Z","g":11.93,"o":11.948,"b":11.926},
{"t":"2020-10-05T23:30Z","g":11.80,"o":11.813,"b":11.796},
{"t":"2020-10-06T00:00Z","g":11.82,"o":11.833,"b":11.816},
{"t":"2020-10-06T00:30Z","g":11.76,"o":11.768,"b":11.756},
{"t":"2020-10-06T01:00Z","g":11.95,"o":11.968,"b":11.946},
{"t":"2020-10-06T01:30Z","g":11.80,"o":11.813,"b":11.796},
{"t":"2020-10-06T02:00Z","g":11.76,"o":11.768,"b":11.756},
{"t":"2020-10-06T02:30Z","g":11.84,"o":11.853,"b":11.836},
{"t":"2020-10-06T03:00Z","g":11.65,"o":11.654,"b":11.645},
{"t":"2020-10-06T03:30Z","g":11.80,"o":11.813,"b":11.796},
{"t":"2020-10-06T04:00Z","g":11.86,"o":11.878,"b":11.856},
{"t":"2020-10-06T04:30Z","g":11.76,"o":11.768,"b":11.756},
{"t":"2020-10-06T05:00Z","g":11.90,"o":11.918,"b":11.896},
{"t":"2020-10-06T05:30Z","g":11.78,"o":11.793,"b":11.776},
{"t":"2020-10-06T06:00Z","g":11.74,"o":11.748,"b":11.736},
{"t":"2020-10-06T06:30Z","g":11.82,"o":11.833,"b":11.816},
{"t":"2020-10-06T07:00Z","g":11.62,"o":11.622,"b":11.612},
{"t":"2020-10-06T07:30Z","g":11.80,"o":11.813,"b":11.796},
{"t":"2020-10-06T08:00Z","g":11.88,"o":11.898,"b":11.876},
{"t":"2020-10-06T08:30Z","g":11.76,"o":11.768,"b":11.756},
{"t":"2020-10-06T09:00Z","g":11.575,"o":11.577,"b":11.562},
{"t":"2020-10-06T09:30Z","g":11.78,"o":11.793,"b":11.776},
{"t":"2020-10-06T10:00Z","g":11.80,"o":11.813,"b":11.796},
{"t":"2020-10-06T10:30Z","g":11.73,"o":11.738,"b":11.726},
{"t":"2020-10-06T11:00Z","g":11.78,"o":11.793,"b":11.776},
{"t":"2020-10-06T11:30Z","g":11.72,"o":11.728,"b":11.716},
{"t":"2020-10-06T12:00Z","g":11.79,"o":11.803,"b":11.786},
{"t":"2020-10-06T12:30Z","g":11.74,"o":11.748,"b":11.736},
{"t":"2020-10-06T13:00Z","g":11.70,"o":11.704,"b":11.695},
{"t":"2020-10-06T13:30Z","g":11.77,"o":11.778,"b":11.766},
{"t":"2020-10-06T14:00Z","g":11.72,"o":11.728,"b":11.716},
{"t":"2020-10-06T14:30Z","g":11.78,"o":11.793,"b":11.776},
{"t":"2020-10-06T15:00Z","g":11.82,"o":11.833,"b":11.816},
{"t":"2020-10-06T15:30Z","g":11.74,"o":11.748,"b":11.736},
{"t":"2020-10-06T16:00Z","g":11.70,"o":11.704,"b":11.695},
{"t":"2020-10-06T16:30Z","g":11.78,"o":11.793,"b":11.776},
{"t":"2020-10-06T17:00Z","g":11.73,"o":11.738,"b":11.726},
{"t":"2020-10-06T17:30Z","g":11.80,"o":11.813,"b":11.796},
{"t":"2020-10-06T18:00Z","g":11.85,"o":11.868,"b":11.846},
{"t":"2020-10-06T18:30Z","g":11.76,"o":11.768,"b":11.756},
{"t":"2020-10-06T19:00Z","g":11.72,"o":11.728,"b":11.716},
{"t":"2020-10-06T19:30Z","g":11.79,"o":11.803,"b":11.786},
{"t":"2020-10-06T20:00Z","g":11.74,"o":11.748,"b":11.736},
{"t":"2020-10-06T20:30Z","g":11.80,"o":11.813,"b":11.796},
{"t":"2020-10-06T21:00Z","g":11.70,"o":11.704,"b":11.695},
{"t":"2020-10-06T21:30Z","g":11.77,"o":11.778,"b":11.766},
{"t":"2020-10-06T22:00Z","g":11.73,"o":11.738,"b":11.726},
{"t":"2020-10-06T22:30Z","g":11.79,"o":11.803,"b":11.786},
{"t":"2020-10-06T23:00Z","g":11.72,"o":11.728,"b":11.716},
{"t":"2020-10-06T23:30Z","g":11.76,"o":11.768,"b":11.756},
{"t":"2020-10-07T00:00Z","g":11.74,"o":11.748,"b":11.736},
{"t":"2020-10-07T00:30Z","g":11.78,"o":11.793,"b":11.776},
{"t":"2020-10-07T01:00Z","g":11.80,"o":11.813,"b":11.796},
{"t":"2020-10-07T01:30Z","g":11.74,"o":11.748,"b":11.736},
{"t":"2020-10-07T02:00Z","g":11.72,"o":11.728,"b":11.716},
{"t":"2020-10-07T02:30Z","g":11.79,"o":11.803,"b":11.786},
{"t":"2020-10-07T03:00Z","g":11.76,"o":11.768,"b":11.756},
{"t":"2020-10-07T03:30Z","g":11.81,"o":11.823,"b":11.806},
{"t":"2020-10-07T04:00Z","g":11.74,"o":11.748,"b":11.736},
{"t":"2020-10-07T04:30Z","g":11.79,"o":11.803,"b":11.786},
{"t":"2020-10-07T05:00Z","g":11.89,"o":11.908,"b":11.886},
{"t":"2020-10-07T05:30Z","g":11.76,"o":11.768,"b":11.756},
{"t":"2020-10-07T06:00Z","g":11.575,"o":11.577,"b":11.564},
{"t":"2020-10-07T06:30Z","g":11.78,"o":11.793,"b":11.776},
{"t":"2020-10-07T07:00Z","g":11.975,"o":11.980,"b":11.971},
{"t":"2020-10-07T07:30Z","g":11.80,"o":11.813,"b":11.796},
{"t":"2020-10-07T08:00Z","g":11.965,"o":11.970,"b":11.961},
{"t":"2020-10-07T08:30Z","g":11.78,"o":11.793,"b":11.776},
{"t":"2020-10-07T09:00Z","g":11.74,"o":11.748,"b":11.736},
{"t":"2020-10-07T09:30Z","g":11.80,"o":11.813,"b":11.796},
{"t":"2020-10-07T10:00Z","g":11.58,"o":11.582,"b":11.569},
{"t":"2020-10-07T10:30Z","g":11.78,"o":11.793,"b":11.776},
{"t":"2020-10-07T11:00Z","g":11.82,"o":11.833,"b":11.816},
{"t":"2020-10-07T11:30Z","g":11.75,"o":11.758,"b":11.746},
{"t":"2020-10-07T12:00Z","g":11.72,"o":11.728,"b":11.716},
{"t":"2020-10-07T12:30Z","g":11.79,"o":11.803,"b":11.786},
{"t":"2020-10-07T13:00Z","g":11.76,"o":11.768,"b":11.756},
{"t":"2020-10-07T13:30Z","g":11.81,"o":11.823,"b":11.806},
{"t":"2020-10-07T14:00Z","g":11.72,"o":11.728,"b":11.716},
{"t":"2020-10-07T14:30Z","g":11.78,"o":11.793,"b":11.776},
{"t":"2020-10-07T15:00Z","g":11.80,"o":11.813,"b":11.796},
{"t":"2020-10-07T15:30Z","g":11.74,"o":11.748,"b":11.736},
{"t":"2020-10-07T16:00Z","g":11.77,"o":11.778,"b":11.766},
{"t":"2020-10-07T16:30Z","g":11.72,"o":11.728,"b":11.716},
{"t":"2020-10-07T17:00Z","g":11.76,"o":11.768,"b":11.756},
{"t":"2020-10-07T17:30Z","g":11.70,"o":11.704,"b":11.695},
{"t":"2020-10-07T18:00Z","g":11.565,"o":11.567,"b":11.552},
{"t":"2020-10-07T18:30Z","g":11.75,"o":11.758,"b":11.746},
{"t":"2020-10-07T19:00Z","g":11.78,"o":11.793,"b":11.776},
{"t":"2020-10-07T19:30Z","g":11.72,"o":11.728,"b":11.716},
{"t":"2020-10-07T20:00Z","g":11.77,"o":11.778,"b":11.766},
{"t":"2020-10-07T20:30Z","g":11.74,"o":11.748,"b":11.736},
{"t":"2020-10-07T21:00Z","g":11.80,"o":11.813,"b":11.796},
{"t":"2020-10-07T21:30Z","g":11.72,"o":11.728,"b":11.716},
{"t":"2020-10-07T22:00Z","g":11.68,"o":11.684,"b":11.675},
{"t":"2020-10-07T22:30Z","g":11.75,"o":11.758,"b":11.746},
{"t":"2020-10-07T23:00Z","g":11.77,"o":11.778,"b":11.766},
{"t":"2020-10-07T23:30Z","g":11.72,"o":11.728,"b":11.716},
{"t":"2020-10-08T00:00Z","g":11.74,"o":11.748,"b":11.736},
{"t":"2020-10-08T00:30Z","g":11.70,"o":11.704,"b":11.695},
{"t":"2020-10-08T01:00Z","g":11.66,"o":11.664,"b":11.655},
{"t":"2020-10-08T01:30Z","g":11.74,"o":11.748,"b":11.736},
{"t":"2020-10-08T02:00Z","g":11.78,"o":11.793,"b":11.776},
{"t":"2020-10-08T02:30Z","g":11.70,"o":11.704,"b":11.695},
{"t":"2020-10-08T03:00Z","g":11.84,"o":11.853,"b":11.836},
{"t":"2020-10-08T03:30Z","g":11.72,"o":11.728,"b":11.716},
{"t":"2020-10-08T04:00Z","g":11.68,"o":11.684,"b":11.675},
{"t":"2020-10-08T04:30Z","g":11.75,"o":11.758,"b":11.746},
{"t":"2020-10-08T05:00Z","g":11.70,"o":11.704,"b":11.695},
{"t":"2020-10-08T05:30Z","g":11.74,"o":11.748,"b":11.736},
{"t":"2020-10-08T06:00Z","g":11.535,"o":11.537,"b":11.523},
{"t":"2020-10-08T06:30Z","g":11.72,"o":11.728,"b":11.716},
{"t":"2020-10-08T07:00Z","g":11.68,"o":11.684,"b":11.675},
{"t":"2020-10-08T07:30Z","g":11.525,"o":11.527,"b":11.513},
{"t":"2020-10-08T08:00Z","g":11.70,"o":11.704,"b":11.695},
{"t":"2020-10-08T08:30Z","g":11.74,"o":11.748,"b":11.736},
{"t":"2020-10-08T09:00Z","g":11.82,"o":11.833,"b":11.816},
{"t":"2020-10-08T09:30Z","g":11.70,"o":11.704,"b":11.695},
{"t":"2020-10-08T10:00Z","g":11.66,"o":11.664,"b":11.655},
{"t":"2020-10-08T10:30Z","g":11.73,"o":11.738,"b":11.726},
{"t":"2020-10-08T11:00Z","g":11.529,"o":11.531,"b":11.520},
{"t":"2020-10-08T11:30Z","g":11.68,"o":11.684,"b":11.675},
{"t":"2020-10-08T12:00Z","g":11.74,"o":11.748,"b":11.736},
{"t":"2020-10-08T12:30Z","g":11.66,"o":11.664,"b":11.655},
{"t":"2020-10-08T13:00Z","g":11.71,"o":11.714,"b":11.705},
{"t":"2020-10-08T13:30Z","g":11.63,"o":11.632,"b":11.622},
{"t":"2020-10-08T14:00Z","g":11.70,"o":11.704,"b":11.695},
{"t":"2020-10-08T14:30Z","g":11.66,"o":11.664,"b":11.655},
{"t":"2020-10-08T15:00Z","g":11.72,"o":11.728,"b":11.716},
{"t":"2020-10-08T15:30Z","g":11.64,"o":11.642,"b":11.632},
{"t":"2020-10-08T16:00Z","g":11.74,"o":11.748,"b":11.736},
{"t":"2020-10-08T16:30Z","g":11.66,"o":11.664,"b":11.655},
{"t":"2020-10-08T17:00Z","g":11.62,"o":11.622,"b":11.612},
{"t":"2020-10-08T17:30Z","g":11.69,"o":11.694,"b":11.685},
{"t":"2020-10-08T18:00Z","g":11.64,"o":11.642,"b":11.632},
{"t":"2020-10-08T18:30Z","g":11.70,"o":11.704,"b":11.695},
{"t":"2020-10-08T19:00Z","g":11.63,"o":11.632,"b":11.622},
{"t":"2020-10-08T19:30Z","g":11.68,"o":11.684,"b":11.675},
{"t":"2020-10-08T20:00Z","g":11.72,"o":11.728,"b":11.716},
{"t":"2020-10-08T20:30Z","g":11.66,"o":11.664,"b":11.655},
{"t":"2020-10-08T21:00Z","g":11.815,"o":11.836,"b":11.811},
{"t":"2020-10-08T21:30Z","g":11.521,"o":11.523,"b":11.508},
{"t":"2020-10-08T22:00Z","g":11.68,"o":11.684,"b":11.675},
{"t":"2020-10-08T22:30Z","g":11.64,"o":11.642,"b":11.632},
{"t":"2020-10-08T23:00Z","g":11.70,"o":11.704,"b":11.695},
{"t":"2020-10-08T23:30Z","g":11.66,"o":11.664,"b":11.655},
{"t":"2020-10-09T00:00Z","g":11.70,"o":11.704,"b":11.695},
{"t":"2020-10-09T00:30Z","g":11.64,"o":11.642,"b":11.632},
{"t":"2020-10-09T01:00Z","g":11.68,"o":11.684,"b":11.675},
{"t":"2020-10-09T01:30Z","g":11.555,"o":11.557,"b":11.542},
{"t":"2020-10-09T02:00Z","g":11.70,"o":11.704,"b":11.695},
{"t":"2020-10-09T02:30Z","g":11.64,"o":11.642,"b":11.632},
{"t":"2020-10-09T03:00Z","g":11.74,"o":11.748,"b":11.736},
{"t":"2020-10-09T03:30Z","g":11.66,"o":11.664,"b":11.655},
{"t":"2020-10-09T04:00Z","g":11.70,"o":11.704,"b":11.695},
{"t":"2020-10-09T04:30Z","g":11.63,"o":11.632,"b":11.622},
{"t":"2020-10-09T05:00Z","g":11.68,"o":11.684,"b":11.675},
{"t":"2020-10-09T05:30Z","g":11.538,"o":11.540,"b":11.526},
{"t":"2020-10-09T06:00Z","g":11.70,"o":11.704,"b":11.695},
{"t":"2020-10-09T06:30Z","g":11.64,"o":11.642,"b":11.632},
{"t":"2020-10-09T07:00Z","g":11.55,"o":11.552,"b":11.537},
{"t":"2020-10-09T07:30Z","g":11.68,"o":11.684,"b":11.675},
{"t":"2020-10-09T08:00Z","g":11.72,"o":11.728,"b":11.716},
{"t":"2020-10-09T08:30Z","g":11.65,"o":11.654,"b":11.645},
{"t":"2020-10-09T09:00Z","g":11.70,"o":11.704,"b":11.695},
{"t":"2020-10-09T09:30Z","g":11.66,"o":11.664,"b":11.655},
{"t":"2020-10-09T10:00Z","g":11.76,"o":11.768,"b":11.756},
{"t":"2020-10-09T10:30Z","g":11.90,"o":11.905,"b":11.896},
{"t":"2020-10-09T11:00Z","g":11.68,"o":11.684,"b":11.675},
{"t":"2020-10-09T11:30Z","g":11.63,"o":11.632,"b":11.622},
{"t":"2020-10-09T12:00Z","g":11.66,"o":11.664,"b":11.655},
{"t":"2020-10-09T12:30Z","g":11.525,"o":11.527,"b":11.512},
{"t":"2020-10-09T13:00Z","g":11.68,"o":11.684,"b":11.675},
{"t":"2020-10-09T13:30Z","g":11.72,"o":11.728,"b":11.716},
{"t":"2020-10-09T14:00Z","g":11.64,"o":11.642,"b":11.632},
{"t":"2020-10-09T14:30Z","g":11.70,"o":11.704,"b":11.695},
{"t":"2020-10-09T15:00Z","g":11.65,"o":11.654,"b":11.645},
{"t":"2020-10-09T15:30Z","g":11.71,"o":11.714,"b":11.705},
{"t":"2020-10-09T16:00Z","g":11.66,"o":11.664,"b":11.655},
{"t":"2020-10-09T16:30Z","g":11.80,"o":11.804,"b":11.796},
{"t":"2020-10-09T17:00Z","g":11.70,"o":11.704,"b":11.695},
{"t":"2020-10-09T17:30Z","g":11.64,"o":11.642,"b":11.632},
{"t":"2020-10-09T18:00Z","g":11.555,"o":11.557,"b":11.542},
{"t":"2020-10-09T18:30Z","g":11.68,"o":11.684,"b":11.675},
{"t":"2020-10-09T19:00Z","g":11.72,"o":11.728,"b":11.716},
{"t":"2020-10-09T19:30Z","g":11.65,"o":11.654,"b":11.645},
{"t":"2020-10-09T20:00Z","g":11.70,"o":11.704,"b":11.695},
{"t":"2020-10-09T20:30Z","g":11.64,"o":11.642,"b":11.632},
{"t":"2020-10-09T21:00Z","g":11.71,"o":11.714,"b":11.705},
{"t":"2020-10-09T21:30Z","g":11.565,"o":11.567,"b":11.554},
{"t":"2020-10-09T22:00Z","g":11.68,"o":11.684,"b":11.675},
{"t":"2020-10-09T22:30Z","g":11.72,"o":11.728,"b":11.716},
{"t":"2020-10-09T23:00Z","g":11.66,"o":11.664,"b":11.655},
{"t":"2020-10-09T23:30Z","g":11.70,"o":11.704,"b":11.695},
{"t":"2020-10-10T00:00Z","g":11.66,"o":11.664,"b":11.655},
{"t":"2020-10-10T00:30Z","g":11.70,"o":11.704,"b":11.695},
{"t":"2020-10-10T01:00Z","g":11.64,"o":11.642,"b":11.632},
{"t":"2020-10-10T01:30Z","g":11.72,"o":11.728,"b":11.716},
{"t":"2020-10-10T02:00Z","g":11.80,"o":11.804,"b":11.796},
{"t":"2020-10-10T02:30Z","g":11.68,"o":11.684,"b":11.675},
{"t":"2020-10-10T03:00Z","g":11.64,"o":11.642,"b":11.632},
{"t":"2020-10-10T03:30Z","g":11.70,"o":11.704,"b":11.695},
{"t":"2020-10-10T04:00Z","g":11.538,"o":11.540,"b":11.504},
{"t":"2020-10-10T04:30Z","g":11.66,"o":11.664,"b":11.655},
{"t":"2020-10-10T05:00Z","g":11.56,"o":11.562,"b":11.548},
{"t":"2020-10-10T05:30Z","g":11.68,"o":11.684,"b":11.675},
{"t":"2020-10-10T06:00Z","g":11.485,"o":11.487,"b":11.472},
{"t":"2020-10-10T06:30Z","g":11.70,"o":11.704,"b":11.695},
{"t":"2020-10-10T07:00Z","g":11.66,"o":11.664,"b":11.655},
{"t":"2020-10-10T07:30Z","g":11.74,"o":11.748,"b":11.736},
{"t":"2020-10-10T08:00Z","g":11.867,"o":11.888,"b":11.863},
{"t":"2020-10-10T08:30Z","g":11.70,"o":11.704,"b":11.695},
{"t":"2020-10-10T09:00Z","g":11.555,"o":11.557,"b":11.542},
{"t":"2020-10-10T09:30Z","g":11.86,"o":11.888,"b":11.856},
{"t":"2020-10-10T10:00Z","g":11.72,"o":11.728,"b":11.716},
{"t":"2020-10-10T10:30Z","g":11.68,"o":11.684,"b":11.675},
{"t":"2020-10-10T11:00Z","g":11.76,"o":11.768,"b":11.756},
{"t":"2020-10-10T11:30Z","g":11.70,"o":11.704,"b":11.695},
{"t":"2020-10-10T12:00Z","g":11.886,"o":11.905,"b":11.882},
{"t":"2020-10-10T12:30Z","g":11.74,"o":11.748,"b":11.736},
{"t":"2020-10-10T13:00Z","g":11.70,"o":11.704,"b":11.695},
{"t":"2020-10-10T13:30Z","g":11.77,"o":11.778,"b":11.766},
{"t":"2020-10-10T14:00Z","g":11.72,"o":11.728,"b":11.716},
{"t":"2020-10-10T14:30Z","g":11.78,"o":11.793,"b":11.776},
{"t":"2020-10-10T15:00Z","g":11.70,"o":11.704,"b":11.695},
{"t":"2020-10-10T15:30Z","g":11.76,"o":11.768,"b":11.756},
{"t":"2020-10-10T16:00Z","g":11.72,"o":11.728,"b":11.716},
{"t":"2020-10-10T16:30Z","g":11.80,"o":11.813,"b":11.796},
{"t":"2020-10-10T17:00Z","g":11.87,"o":11.887,"b":11.866},
{"t":"2020-10-10T17:30Z","g":11.534,"o":11.536,"b":11.518},
{"t":"2020-10-10T18:00Z","g":11.74,"o":11.748,"b":11.736},
{"t":"2020-10-10T18:30Z","g":11.70,"o":11.704,"b":11.695},
{"t":"2020-10-10T19:00Z","g":11.78,"o":11.793,"b":11.776},
{"t":"2020-10-10T19:30Z","g":11.72,"o":11.728,"b":11.716},
{"t":"2020-10-10T20:00Z","g":11.86,"o":11.880,"b":11.856},
{"t":"2020-10-10T20:30Z","g":11.76,"o":11.768,"b":11.756},
{"t":"2020-10-10T21:00Z","g":11.80,"o":11.813,"b":11.796},
{"t":"2020-10-10T21:30Z","g":11.74,"o":11.748,"b":11.736},
{"t":"2020-10-10T22:00Z","g":11.957,"o":11.969,"b":11.815},
{"t":"2020-10-10T22:30Z","g":11.80,"o":11.813,"b":11.780},
{"t":"2020-10-10T23:00Z","g":11.965,"o":11.974,"b":11.820},
{"t":"2020-10-10T23:30Z","g":11.78,"o":11.793,"b":11.750},
{"t":"2020-10-11T00:00Z","g":11.76,"o":11.768,"b":11.720},
{"t":"2020-10-11T00:30Z","g":11.80,"o":11.813,"b":11.740},
{"t":"2020-10-11T01:00Z","g":11.86,"o":11.879,"b":11.790},
{"t":"2020-10-11T01:30Z","g":11.76,"o":11.768,"b":11.761},
{"t":"2020-10-11T02:00Z","g":11.72,"o":11.728,"b":11.716},
{"t":"2020-10-11T02:30Z","g":11.79,"o":11.803,"b":11.786},
{"t":"2020-10-11T03:00Z","g":11.862,"o":11.880,"b":11.858},
{"t":"2020-10-11T03:30Z","g":11.76,"o":11.768,"b":11.756},
{"t":"2020-10-11T04:00Z","g":11.72,"o":11.728,"b":11.716},
{"t":"2020-10-11T04:30Z","g":11.80,"o":11.813,"b":11.796},
{"t":"2020-10-11T05:00Z","g":11.76,"o":11.768,"b":11.756},
{"t":"2020-10-11T05:30Z","g":11.82,"o":11.833,"b":11.816},
{"t":"2020-10-11T06:00Z","g":11.74,"o":11.748,"b":11.736},
{"t":"2020-10-11T06:30Z","g":11.85,"o":11.869,"b":11.846},
{"t":"2020-10-11T07:00Z","g":11.76,"o":11.768,"b":11.756},
{"t":"2020-10-11T07:30Z","g":11.555,"o":11.557,"b":11.548},
{"t":"2020-10-11T08:00Z","g":11.966,"o":11.994,"b":11.962},
{"t":"2020-10-11T08:30Z","g":11.78,"o":11.793,"b":11.776},
{"t":"2020-10-11T09:00Z","g":11.72,"o":11.728,"b":11.716},
{"t":"2020-10-11T09:30Z","g":11.80,"o":11.813,"b":11.796},
{"t":"2020-10-11T10:00Z","g":11.76,"o":11.768,"b":11.756},
{"t":"2020-10-11T10:30Z","g":11.82,"o":11.833,"b":11.816},
{"t":"2020-10-11T11:00Z","g":11.85,"o":11.868,"b":11.846},
{"t":"2020-10-11T11:30Z","g":11.905,"o":11.919,"b":11.901},
{"t":"2020-10-11T12:00Z","g":11.76,"o":11.768,"b":11.756},
{"t":"2020-10-11T12:30Z","g":11.72,"o":11.728,"b":11.716},
{"t":"2020-10-11T13:00Z","g":11.80,"o":11.813,"b":11.796},
{"t":"2020-10-11T13:30Z","g":11.70,"o":11.704,"b":11.695},
{"t":"2020-10-11T14:00Z","g":11.78,"o":11.793,"b":11.776},
{"t":"2020-10-11T14:30Z","g":11.74,"o":11.748,"b":11.736},
{"t":"2020-10-11T15:00Z","g":11.68,"o":11.684,"b":11.675},
{"t":"2020-10-11T15:30Z","g":11.78,"o":11.793,"b":11.776},
{"t":"2020-10-11T16:00Z","g":11.82,"o":11.833,"b":11.816},
{"t":"2020-10-11T16:30Z","g":11.74,"o":11.748,"b":11.736},
{"t":"2020-10-11T17:00Z","g":11.80,"o":11.813,"b":11.796},
{"t":"2020-10-11T17:30Z","g":11.859,"o":11.894,"b":11.855},
{"t":"2020-10-11T18:00Z","g":11.72,"o":11.728,"b":11.716},
{"t":"2020-10-11T18:30Z","g":11.78,"o":11.793,"b":11.776},
{"t":"2020-10-11T19:00Z","g":11.82,"o":11.833,"b":11.816},
{"t":"2020-10-11T19:30Z","g":11.74,"o":11.748,"b":11.736},
{"t":"2020-10-11T20:00Z","g":11.80,"o":11.813,"b":11.796},
{"t":"2020-10-11T20:30Z","g":11.873,"o":11.898,"b":11.869},
{"t":"2020-10-11T21:00Z","g":11.755,"o":11.764,"b":11.751}
    ]
  },
  "encoding": {
    "x": {
      "field": "t", "type": "temporal",
      "scale": {"type": "utc", "domain": [{"year": 2020, "month": 9, "date": 23, "hours": 15, "minutes": 10, "utc": true}, {"year": 2020, "month": 10, "date": 12, "hours": 17, "minutes": 40, "utc": true}]},
      "axis": {
        "title": null,
        "labelExpr": "utcFormat(datum.value, '%d/%m')",
        "labelPadding": 13,
        "values": [
          {"year": 2020, "month": 9, "date": 25, "utc": true},
          {"year": 2020, "month": 9, "date": 27, "utc": true},
          {"year": 2020, "month": 9, "date": 29, "utc": true},
          {"year": 2020, "month": 10, "date": 1, "utc": true},
          {"year": 2020, "month": 10, "date": 3, "utc": true},
          {"year": 2020, "month": 10, "date": 5, "utc": true},
          {"year": 2020, "month": 10, "date": 7, "utc": true},
          {"year": 2020, "month": 10, "date": 9, "utc": true},
          {"year": 2020, "month": 10, "date": 11, "utc": true}
        ]
      }
    },
    "y": {
      "field": "v", "type": "quantitative",
      "scale": {"domain": [11.4, 12.0], "nice": false, "zero": false},
      "axis": {
        "values": [11.4, 11.5, 11.6, 11.7, 11.8, 11.9, 12.0],
        "format": ".1f",
        "labelPadding": 21,
        "labelOffset": 2,
        "title": "Line Voltage (kV)",
        "titleFont": "Liberation Sans",
        "titleFontSize": 57,
        "titleFontWeight": "normal",
        "titleColor": "black",
        "titleAngle": 270,
        "titleAlign": "center",
        "titleBaseline": "alphabetic",
        "titleX": -136,
        "titleY": 448
      }
    }
  },
  "layer": [
    {
      "data": {"name": "band"},
      "mark": {"type": "rect", "fill": "#808080", "fillOpacity": 0.22, "stroke": "#808080", "strokeOpacity": 0.22, "strokeWidth": 2},
      "encoding": {"x2": {"field": "t2"}, "y2": {"field": "v2"}}
    },
    {
      "data": {"name": "shaft"},
      "mark": {"type": "rule", "color": "black", "strokeWidth": 2.6},
      "encoding": {"y2": {"field": "v2"}}
    },
    {
      "data": {"name": "headUp"},
      "mark": {"type": "point", "shape": "M0,-1L-0.94,1L0.94,1Z", "size": 256, "filled": true, "color": "black", "opacity": 1, "strokeWidth": 0},
      "encoding": {}
    },
    {
      "data": {"name": "headDown"},
      "mark": {"type": "point", "shape": "M0,1L-0.94,-1L0.94,-1Z", "size": 256, "filled": true, "color": "black", "opacity": 1, "strokeWidth": 0},
      "encoding": {}
    },
    {
      "data": {"name": "note"},
      "mark": {"type": "text", "font": "Liberation Serif", "fontWeight": "bold", "fontSize": 37, "align": "left", "baseline": "alphabetic", "color": "black"},
      "encoding": {"text": {"field": "text"}}
    },
    {
      "data": {"name": "volt"},
      "transform": [{"fold": ["b"], "as": ["series", "v"]}],
      "mark": {"type": "line", "color": "#1f77b4", "strokeWidth": 4.2, "strokeJoin": "round", "clip": true},
      "encoding": {}
    },
    {
      "data": {"name": "volt"},
      "transform": [{"fold": ["o"], "as": ["series", "v"]}],
      "mark": {"type": "line", "color": "#ff7f0e", "strokeWidth": 4.2, "strokeJoin": "round", "clip": true},
      "encoding": {}
    },
    {
      "data": {"name": "volt"},
      "transform": [{"fold": ["g"], "as": ["series", "v"]}],
      "mark": {"type": "line", "color": "#2ca02c", "strokeWidth": 4.2, "strokeJoin": "round", "clip": true},
      "encoding": {}
    }
  ]
}
